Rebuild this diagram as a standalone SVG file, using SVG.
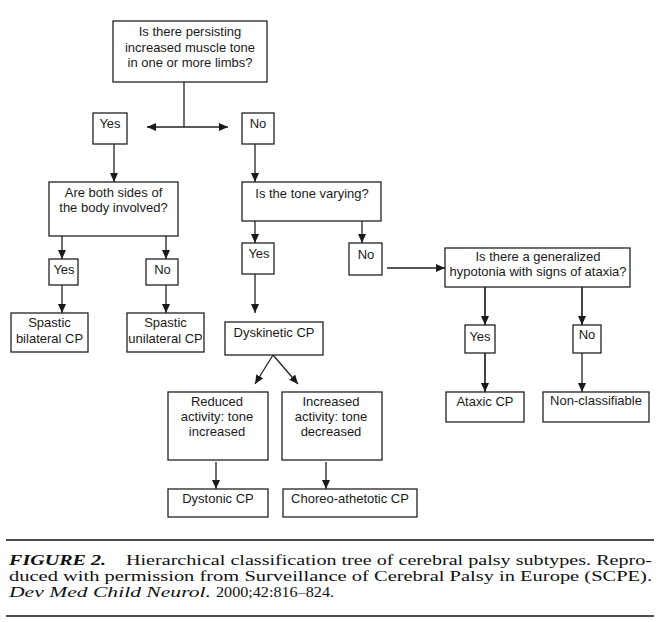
<svg xmlns="http://www.w3.org/2000/svg" width="664" height="622" viewBox="0 0 664 622">
<style>
.box{fill:#fff;stroke:#222;stroke-width:1.3}
.t{font-family:"Liberation Sans",Arial,sans-serif;font-size:13px;fill:#1a1a1a;text-anchor:middle}
.c{stroke:#222;stroke-width:1.3;fill:none}
.cb{stroke:#222;stroke-width:1.7;fill:none}
.cap{font-family:"Liberation Serif","Times New Roman",serif;font-size:15px;fill:#111}
.rule{stroke:#111;stroke-width:1.3}
</style>
<defs>
<marker id="ah" viewBox="0 0 10 10" refX="10" refY="5" markerWidth="9" markerHeight="8" markerUnits="userSpaceOnUse" orient="auto" preserveAspectRatio="none">
<path d="M0,0 L10,5 L0,10 z" fill="#1a1a1a"/>
</marker>
</defs>
<rect width="664" height="622" fill="#fff"/>
<g id="connectors">
<path class="c" d="M184,82 V127"/>
<path class="c" d="M184,127 H147" marker-end="url(#ah)"/>
<path class="c" d="M184,127 H228" marker-end="url(#ah)"/>
<path class="c" d="M114,144 V182" marker-end="url(#ah)"/>
<path class="c" d="M255,144 V182" marker-end="url(#ah)"/>
<path class="c" d="M62,236 V259" marker-end="url(#ah)"/>
<path class="c" d="M166,236 V259" marker-end="url(#ah)"/>
<path class="c" d="M62,285 V313" marker-end="url(#ah)"/>
<path class="c" d="M166,285 V313" marker-end="url(#ah)"/>
<path class="c" d="M255,221 V243" marker-end="url(#ah)"/>
<path class="c" d="M362,221 V243" marker-end="url(#ah)"/>
<path class="c" d="M255,274 V313" marker-end="url(#ah)"/>
<path class="c" d="M387,268 H445" marker-end="url(#ah)"/>
<path class="cb" d="M485,287 V325" marker-end="url(#ah)"/>
<path class="cb" d="M582,287 V325" marker-end="url(#ah)"/>
<path class="cb" d="M485,353 V392" marker-end="url(#ah)"/>
<path class="c" d="M582,353 V392" marker-end="url(#ah)"/>
<path class="c" d="M273,355 L255,384" marker-end="url(#ah)"/>
<path class="c" d="M273,355 L298,384" marker-end="url(#ah)"/>
<path class="c" d="M216,462 V489" marker-end="url(#ah)"/>
<path class="c" d="M326,462 V489" marker-end="url(#ah)"/>
</g>
<g id="q1"><rect class="box" x="113" y="21" width="154" height="61"/>
<text class="t" x="190" y="36">Is there persisting</text>
<text class="t" x="190" y="52">increased muscle tone</text>
<text class="t" x="190" y="67">in one or more limbs?</text></g>
<g id="yes1"><rect class="box" x="93" y="113" width="34" height="31"/><text class="t" x="110" y="128">Yes</text></g>
<g id="no1"><rect class="box" x="242" y="113" width="32" height="31"/><text class="t" x="258" y="128">No</text></g>
<g id="q2"><rect class="box" x="49" y="182" width="129" height="54"/>
<text class="t" x="113.5" y="197">Are both sides of</text>
<text class="t" x="113.5" y="212">the body involved?</text></g>
<g id="q3"><rect class="box" x="242" y="182" width="139" height="39"/>
<text class="t" x="312" y="198">Is the tone varying?</text></g>
<g id="yes2"><rect class="box" x="49" y="259" width="29" height="26"/><text class="t" x="64" y="274">Yes</text></g>
<g id="no2"><rect class="box" x="146" y="259" width="32" height="26"/><text class="t" x="162.5" y="274">No</text></g>
<g id="sbil"><rect class="box" x="11" y="313" width="77" height="39"/>
<text class="t" x="49.5" y="327">Spastic</text>
<text class="t" x="49.5" y="343">bilateral CP</text></g>
<g id="suni"><rect class="box" x="127" y="313" width="77" height="39"/>
<text class="t" x="165.5" y="327">Spastic</text>
<text class="t" x="165.5" y="343">unilateral CP</text></g>
<g id="yes3"><rect class="box" x="242" y="243" width="32" height="31"/><text class="t" x="259" y="258">Yes</text></g>
<g id="no3"><rect class="box" x="349" y="243" width="33" height="32"/><text class="t" x="366" y="259">No</text></g>
<g id="dysk"><rect class="box" x="225" y="322" width="98" height="33"/><text class="t" x="274" y="337">Dyskinetic CP</text></g>
<g id="q4"><rect class="box" x="445" y="248" width="185" height="39"/>
<text class="t" x="538" y="261">Is there a generalized</text>
<text class="t" x="538" y="276">hypotonia with signs of ataxia?</text></g>
<g id="yes4"><rect class="box" x="465" y="325" width="30" height="28"/><text class="t" x="480" y="341">Yes</text></g>
<g id="no4"><rect class="box" x="573" y="325" width="28" height="28"/><text class="t" x="587" y="339">No</text></g>
<g id="ataxic"><rect class="box" x="446" y="392" width="78" height="30"/><text class="t" x="485" y="406">Ataxic CP</text></g>
<g id="noncl"><rect class="box" x="543" y="392" width="106" height="30"/><text class="t" x="596" y="405">Non-classifiable</text></g>
<g id="reduced"><rect class="box" x="168" y="392" width="100" height="68"/>
<text class="t" x="217" y="406">Reduced</text>
<text class="t" x="217" y="421">activity: tone</text>
<text class="t" x="217" y="436">increased</text></g>
<g id="increased"><rect class="box" x="282" y="392" width="100" height="68"/>
<text class="t" x="331" y="406">Increased</text>
<text class="t" x="331" y="421">activity: tone</text>
<text class="t" x="331" y="436">decreased</text></g>
<g id="dystonic"><rect class="box" x="168" y="489" width="100" height="28"/><text class="t" x="218" y="503">Dystonic CP</text></g>
<g id="choreo"><rect class="box" x="283" y="489" width="134" height="28"/><text class="t" x="350" y="503">Choreo-athetotic CP</text></g>
<g id="caption">
<line class="rule" x1="6" y1="540" x2="654" y2="540"/>
<text class="cap" x="9" y="565" font-weight="bold" font-style="italic" textLength="97" lengthAdjust="spacingAndGlyphs">FIGURE 2.</text>
<text class="cap" x="126" y="565" textLength="526" lengthAdjust="spacingAndGlyphs">Hierarchical classification tree of cerebral palsy subtypes. Repro-</text>
<text class="cap" x="9" y="581" textLength="643" lengthAdjust="spacingAndGlyphs">duced with permission from Surveillance of Cerebral Palsy in Europe (SCPE).</text>
<text class="cap" x="9" y="597" font-style="italic" textLength="202" lengthAdjust="spacingAndGlyphs">Dev Med Child Neurol.</text>
<text class="cap" x="216" y="597" textLength="118" lengthAdjust="spacingAndGlyphs">2000;42:816–824.</text>
<line class="rule" x1="6" y1="616" x2="654" y2="616"/>
</g>
</svg>
